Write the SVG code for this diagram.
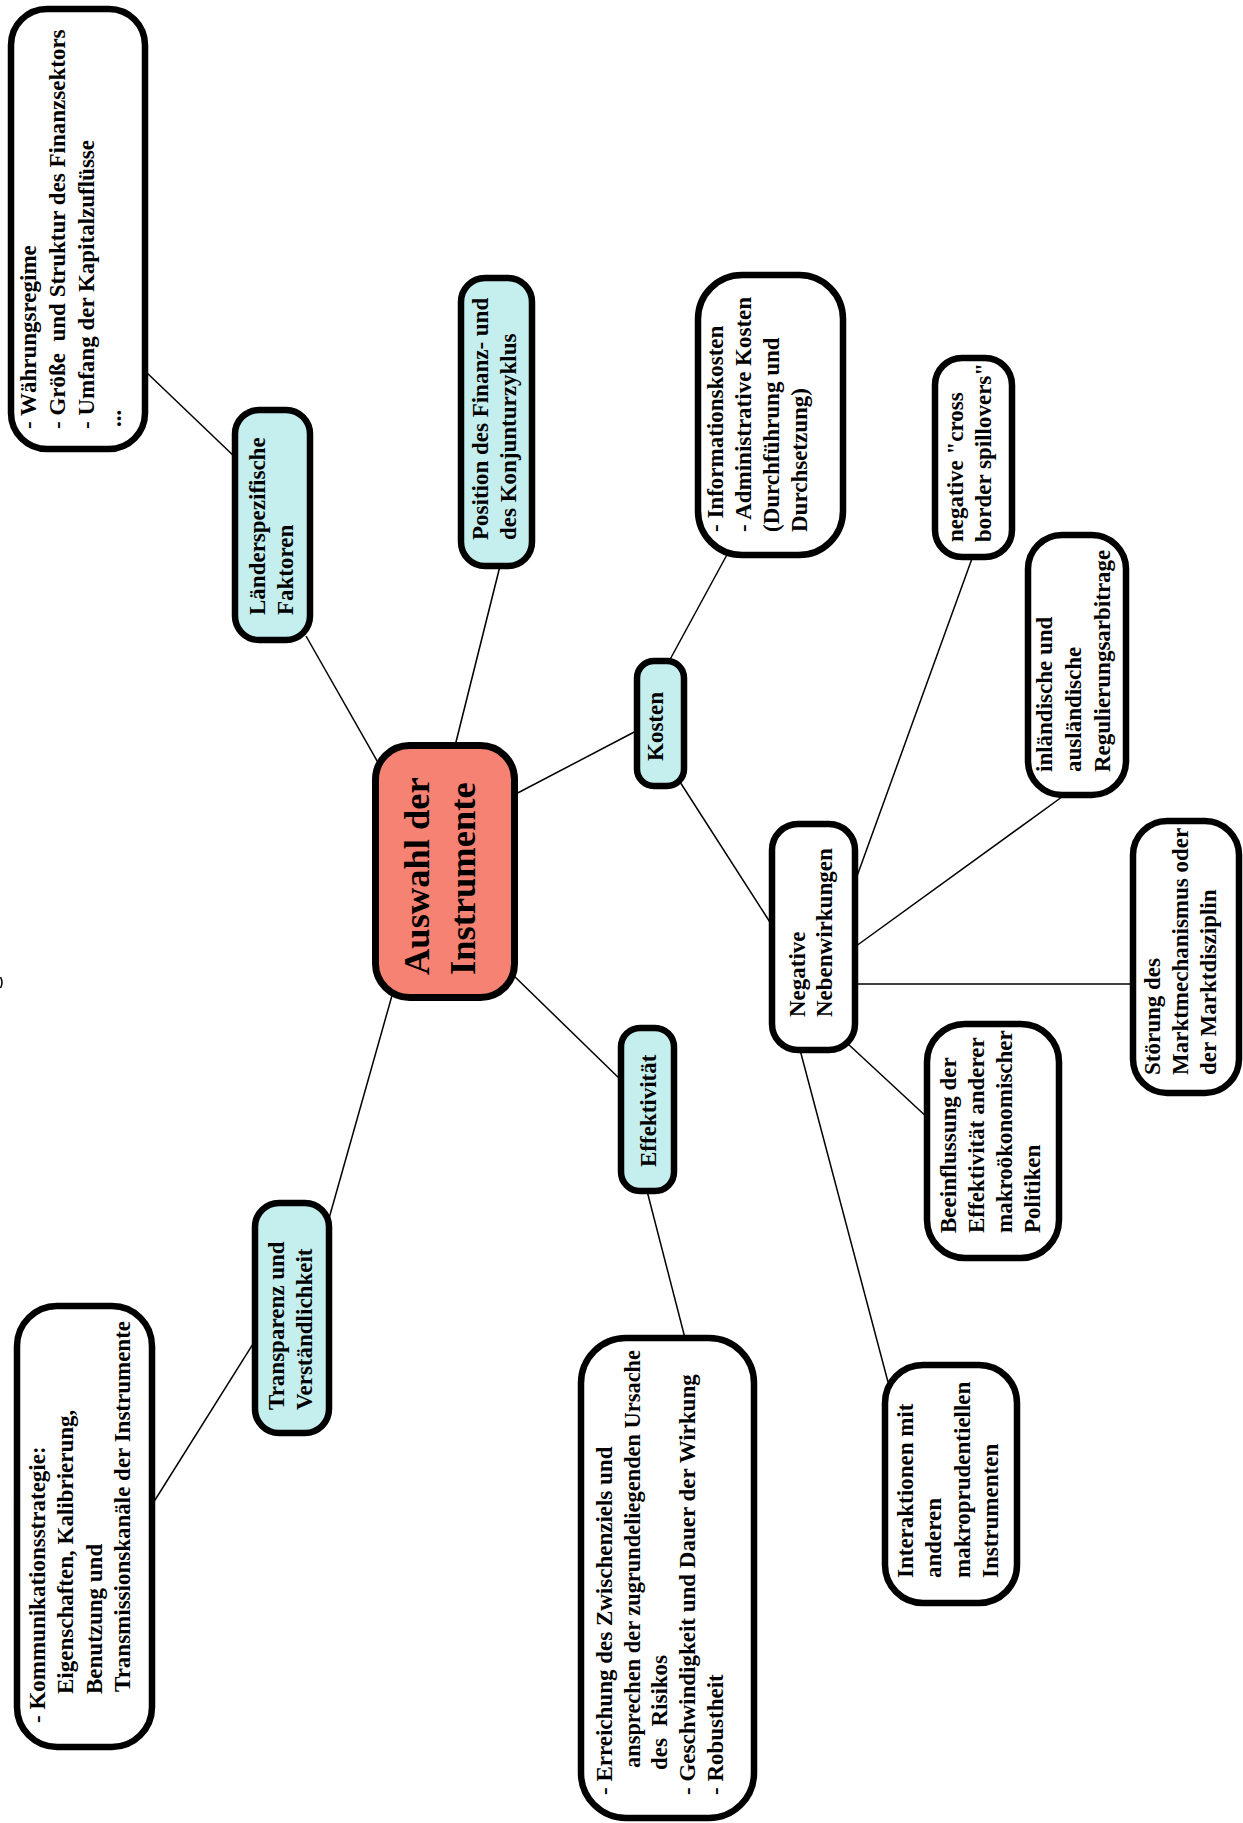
<svg xmlns="http://www.w3.org/2000/svg" width="1243" height="1823" viewBox="0 0 1243 1823">
<style>
.box{fill:#ffffff;stroke:#000;stroke-width:6.5}
.cy{fill:#c5eeee;stroke:#000;stroke-width:6.5}
.core{fill:#f58272;stroke:#000;stroke-width:7}
.t{font-family:"Liberation Serif","Times New Roman",serif;font-weight:bold;font-size:23px;fill:#000;white-space:pre}
.tc{font-family:"Liberation Serif","Times New Roman",serif;font-weight:bold;font-size:36.5px;fill:#000}
.ln{stroke:#000;stroke-width:1.5;fill:none}
</style>
<rect width="1243" height="1823" fill="#ffffff"/>
<g id="connectors">
<line class="ln" x1="145" y1="371" x2="238" y2="460"/>
<line class="ln" x1="306" y1="636" x2="380" y2="766"/>
<line class="ln" x1="501" y1="562" x2="454" y2="750"/>
<line class="ln" x1="510" y1="797" x2="640" y2="729"/>
<line class="ln" x1="667" y1="665" x2="729" y2="551"/>
<line class="ln" x1="680" y1="782" x2="775" y2="930"/>
<line class="ln" x1="852" y1="890" x2="974" y2="553"/>
<line class="ln" x1="852" y1="949" x2="1066" y2="794"/>
<line class="ln" x1="852" y1="984" x2="1136" y2="984"/>
<line class="ln" x1="847" y1="1043" x2="930" y2="1120"/>
<line class="ln" x1="799" y1="1046" x2="888" y2="1382"/>
<line class="ln" x1="511" y1="973" x2="624" y2="1083"/>
<line class="ln" x1="646" y1="1187" x2="686" y2="1342"/>
<line class="ln" x1="393" y1="992" x2="328" y2="1222"/>
<line class="ln" x1="258" y1="1336" x2="150" y2="1508"/>
<path class="ln" d="M0.5,977 Q3.5,982.5 0.5,988" stroke="#777" stroke-width="1.2"/>
</g>
<g id="n-waehrung">
<rect class="box" x="11" y="9" width="134" height="440" rx="36"/>
<g transform="rotate(-90)">
<text class="t" x="-429" y="36">- Währungsregime</text>
<text class="t" x="-429" y="65">- Größe  und Struktur des Finanzsektors</text>
<text class="t" x="-429" y="94">- Umfang der Kapitalzuflüsse</text>
<text class="t" x="-427" y="121">...</text>
</g>
</g>
<g id="n-laender">
<rect class="cy" x="235" y="410" width="75" height="230" rx="24"/>
<g transform="rotate(-90)">
<text class="t" x="-615" y="265">Länderspezifische</text>
<text class="t" x="-615" y="293">Faktoren</text>
</g>
</g>
<g id="n-position">
<rect class="cy" x="461" y="278" width="71" height="288" rx="24"/>
<g transform="rotate(-90)">
<text class="t" x="-540" y="488">Position des Finanz- und</text>
<text class="t" x="-540" y="516">des Konjunturzyklus</text>
</g>
</g>
<g id="n-auswahl">
<rect class="core" x="375.5" y="745.5" width="139" height="252" rx="34"/>
<g transform="rotate(-90)">
<text class="tc" x="-975" y="429">Auswahl der</text>
<text class="tc" x="-975" y="475">Instrumente</text>
</g>
</g>
<g id="n-kosten">
<rect class="cy" x="637" y="661" width="47" height="125" rx="17"/>
<g transform="rotate(-90)">
<text class="t" x="-761" y="663">Kosten</text>
</g>
</g>
<g id="n-info">
<rect class="box" x="698" y="275" width="145" height="280" rx="44"/>
<g transform="rotate(-90)">
<text class="t" x="-532" y="723">- Informationskosten</text>
<text class="t" x="-532" y="751">- Administrative Kosten</text>
<text class="t" x="-532" y="779">(Durchführung und</text>
<text class="t" x="-532" y="807">Durchsetzung)</text>
</g>
</g>
<g id="n-spillovers">
<rect class="box" x="935" y="358" width="77" height="199" rx="27"/>
<g transform="rotate(-90)">
<text class="t" x="-542" y="963">negative "cross</text>
<text class="t" x="-542" y="991">border spillovers"</text>
</g>
</g>
<g id="n-arbitrage">
<rect class="box" x="1028" y="535" width="98" height="260" rx="34"/>
<g transform="rotate(-90)">
<text class="t" x="-772" y="1052">inländische und</text>
<text class="t" x="-772" y="1081">ausländische</text>
<text class="t" x="-772" y="1110">Regulierungsarbitrage</text>
</g>
</g>
<g id="n-negativ">
<rect class="box" x="772" y="824" width="83" height="226" rx="26"/>
<g transform="rotate(-90)">
<text class="t" x="-1017" y="805">Negative</text>
<text class="t" x="-1017" y="832">Nebenwirkungen</text>
</g>
</g>
<g id="n-stoerung">
<rect class="box" x="1133" y="821" width="106" height="272" rx="34"/>
<g transform="rotate(-90)">
<text class="t" x="-1075" y="1160">Störung des</text>
<text class="t" x="-1075" y="1188">Marktmechanismus oder</text>
<text class="t" x="-1075" y="1216">der Marktdisziplin</text>
</g>
</g>
<g id="n-beeinflussung">
<rect class="box" x="927" y="1024" width="132" height="234" rx="38"/>
<g transform="rotate(-90)">
<text class="t" x="-1233" y="956">Beeinflussung der</text>
<text class="t" x="-1233" y="984">Effektivität anderer</text>
<text class="t" x="-1233" y="1012">makroökonomischer</text>
<text class="t" x="-1233" y="1040">Politiken</text>
</g>
</g>
<g id="n-effektivitaet">
<rect class="cy" x="621" y="1028" width="53" height="163" rx="19"/>
<g transform="rotate(-90)">
<text class="t" x="-1167" y="656">Effektivität</text>
</g>
</g>
<g id="n-interaktionen">
<rect class="box" x="885" y="1365" width="132" height="238" rx="38"/>
<g transform="rotate(-90)">
<text class="t" x="-1578" y="913">Interaktionen mit</text>
<text class="t" x="-1578" y="941">anderen</text>
<text class="t" x="-1578" y="970">makroprudentiellen</text>
<text class="t" x="-1578" y="998">Instrumenten</text>
</g>
</g>
<g id="n-erreichung">
<rect class="box" x="581" y="1338" width="173" height="480" rx="45"/>
<g transform="rotate(-90)">
<text class="t" x="-1795" y="612">- Erreichung des Zwischenziels und</text>
<text class="t" x="-1768" y="640" textLength="418" lengthAdjust="spacingAndGlyphs">ansprechen der zugrundeliegenden Ursache</text>
<text class="t" x="-1770" y="667">des  Risikos</text>
<text class="t" x="-1795" y="695">- Geschwindigkeit und Dauer der Wirkung</text>
<text class="t" x="-1795" y="723">- Robustheit</text>
</g>
</g>
<g id="n-transparenz">
<rect class="cy" x="255" y="1203" width="74" height="230" rx="24"/>
<g transform="rotate(-90)">
<text class="t" x="-1410" y="284">Transparenz und</text>
<text class="t" x="-1410" y="312">Verständlichkeit</text>
</g>
</g>
<g id="n-kommunikation">
<rect class="box" x="17" y="1306" width="135" height="441" rx="40"/>
<g transform="rotate(-90)">
<text class="t" x="-1723" y="45">- Kommunikationsstrategie:</text>
<text class="t" x="-1694" y="73">Eigenschaften, Kalibrierung,</text>
<text class="t" x="-1694" y="102">Benutzung und</text>
<text class="t" x="-1692" y="130">Transmissionskanäle der Instrumente</text>
</g>
</g>
</svg>
